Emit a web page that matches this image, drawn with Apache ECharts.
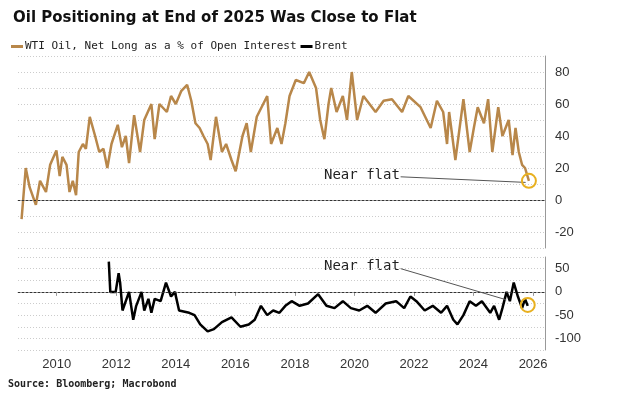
<!DOCTYPE html>
<html><head><meta charset="utf-8">
<script src="https://cdn.jsdelivr.net/npm/echarts@6/dist/echarts.min.js"></script>
<style>html,body{margin:0;padding:0;background:#fff}#c{width:631px;height:404px}</style>
</head><body><div id="c"></div>
<script>
// WTI net long % of open interest (years)
var wtiYears = [2008.82,2008.96,2009.09,2009.30,2009.44,2009.64,2009.78,2009.99,2010.10,2010.19,2010.33,2010.43,2010.54,2010.65,2010.74,2010.88,2010.98,2011.11,2011.29,2011.43,2011.57,2011.70,2011.84,2012.05,2012.19,2012.32,2012.43,2012.60,2012.80,2012.94,2013.18,2013.29,2013.45,2013.70,2013.84,2014.00,2014.18,2014.38,2014.52,2014.66,2014.80,2014.93,2015.07,2015.17,2015.35,2015.55,2015.69,2015.87,2016.01,2016.24,2016.38,2016.52,2016.72,2017.07,2017.20,2017.41,2017.55,2017.68,2017.82,2018.03,2018.30,2018.48,2018.71,2018.85,2018.99,2019.13,2019.22,2019.40,2019.61,2019.75,2019.91,2020.09,2020.30,2020.71,2020.98,2021.26,2021.60,2021.81,2022.22,2022.56,2022.77,2022.98,2023.11,2023.18,2023.39,2023.66,2023.87,2024.01,2024.14,2024.35,2024.49,2024.63,2024.83,2024.97,2025.18,2025.31,2025.41,2025.52,2025.63,2025.73,2025.86];
var wtiValues = [-12,20,8,-3,12,5,22,31,15,27,22,5,12,3,30,35,32,52,40,30,32,20,35,47,33,40,23,53,30,50,60,38,60,55,65,60,68,72,62,48,45,40,35,25,52,30,35,25,18,40,48,30,52,65,35,45,35,48,65,75,73,80,70,50,38,60,70,55,65,50,80,50,65,55,62,63,55,65,58,45,62,55,35,55,25,63,30,45,58,48,63,30,58,40,50,28,45,30,22,20,12];
// Brent
var brentYears = [2011.75,2011.80,2011.98,2012.08,2012.13,2012.21,2012.32,2012.43,2012.57,2012.67,2012.85,2012.94,2013.08,2013.18,2013.29,2013.49,2013.67,2013.84,2013.97,2014.11,2014.45,2014.63,2014.82,2015.07,2015.28,2015.55,2015.87,2016.17,2016.45,2016.65,2016.86,2017.07,2017.27,2017.48,2017.68,2017.89,2018.16,2018.44,2018.78,2019.06,2019.33,2019.61,2019.88,2020.16,2020.43,2020.71,2021.05,2021.40,2021.67,2021.88,2022.08,2022.36,2022.63,2022.91,2023.11,2023.32,2023.46,2023.66,2023.87,2024.08,2024.28,2024.56,2024.69,2024.86,2024.97,2025.11,2025.22,2025.35,2025.49,2025.63,2025.73,2025.82];
var brentValues = [65,0,0,40,20,-40,-20,0,-60,-30,0,-40,-15,-45,-15,-20,20,-10,0,-40,-45,-50,-70,-85,-80,-65,-55,-75,-70,-60,-30,-50,-40,-45,-30,-20,-30,-25,-5,-30,-35,-20,-35,-40,-30,-45,-25,-20,-35,-10,-20,-40,-30,-45,-30,-60,-70,-50,-20,-30,-20,-45,-30,-60,-35,0,-20,20,-10,-35,-15,-30];
var yearLabels = [2010,2012,2014,2016,2018,2020,2022,2024,2026];

var ORANGE = '#B8874A';
function zip(a, b) { return a.map(function (x, i) { return [x, b[i]]; }); }
var mono = '"DejaVu Sans Mono", monospace';

function xAx(idx, showLabels) {
    return {
        type: 'value', gridIndex: idx, min: 2008.7, max: 2026.4,
        axisLine: { show: true, lineStyle: { color: '#999' } },
        axisTick: { show: showLabels, length: 4, lineStyle: { color: '#999' }, customValues: yearLabels },
        axisLabel: { show: showLabels, customValues: yearLabels, color: '#333', fontSize: 13,
            fontFamily: 'Liberation Sans Narrow, Liberation Sans', margin: 8,
            formatter: function (v) { return String(Math.round(v)); } },
        splitLine: { show: false }
    };
}
function yAx(idx, min, max, interval, labelStep) {
    return {
        type: 'value', gridIndex: idx, position: 'right', min: min, max: max, interval: interval,
        axisLine: { show: true, lineStyle: { color: '#999' } },
        axisTick: { show: false },
        axisLabel: {
            color: '#333', fontSize: 13, fontFamily: 'Liberation Sans Narrow, Liberation Sans', margin: 10,
            formatter: function (v) { return (v % labelStep === 0 && v > min && v < max) ? String(v) : ''; }
        },
        splitLine: { show: true, lineStyle: { color: '#ccc', type: [1, 2] } }
    };
}

var chart = echarts.init(document.getElementById('c'));
chart.setOption({
    animation: false,
    title: { text: 'Oil Positioning at End of 2025 Was Close to Flat', left: 8, top: 6,
        textStyle: { fontSize: 15, fontWeight: 'bold', fontFamily: 'DejaVu Sans', color: '#111' } },
    legend: { left: 6, top: 36, itemWidth: 12, itemHeight: 3, itemGap: 4, icon: 'rect',
        textStyle: { fontFamily: mono, fontSize: 11, color: '#222', padding: [0, 0, 0, -3] },
        data: ['WTI Oil, Net Long as a % of Open Interest', 'Brent'] },
    grid: [
        { left: 18, right: 86, top: 56, height: 192 },
        { left: 18, right: 86, top: 257, height: 93 }
    ],
    xAxis: [xAx(0, false), xAx(1, true)],
    yAxis: [yAx(0, -30, 90, 10, 20), yAx(1, -125, 75, 25, 50)],
    graphic: [
        { type: 'text', left: 324, top: 168, style: { text: 'Near flat', fontFamily: mono, fontSize: 14, fill: '#222' } },
        { type: 'text', left: 324, top: 259, style: { text: 'Near flat', fontFamily: mono, fontSize: 14, fill: '#222' } },
        { type: 'text', left: 8, top: 379, style: { text: 'Source: Bloomberg; Macrobond', fontFamily: mono, fontSize: 10, fontWeight: 'bold', fill: '#222' } }
    ],
    series: [
        { name: 'WTI Oil, Net Long as a % of Open Interest', type: 'line', xAxisIndex: 0, yAxisIndex: 0,
          data: zip(wtiYears, wtiValues), showSymbol: false, color: ORANGE, lineStyle: { width: 2.5 },
          markLine: { silent: true, symbol: 'none', label: { show: false }, data: [
              { yAxis: 0, lineStyle: { color: '#333', type: [2, 2], width: 1 } },
              [{ coord: [2021.55, 14.5], lineStyle: { color: '#555', type: 'solid', width: 1 } }, { coord: [2025.75, 11] }]
          ] },
          markPoint: { silent: true, symbol: 'circle', symbolSize: 14, label: { show: false },
              itemStyle: { color: 'rgba(0,0,0,0)', borderColor: '#E8B020', borderWidth: 2 },
              data: [{ coord: [2025.86, 12] }] } },
        { name: 'Brent', type: 'line', xAxisIndex: 1, yAxisIndex: 1,
          data: zip(brentYears, brentValues), showSymbol: false, color: '#000', lineStyle: { width: 2.5 },
          markLine: { silent: true, symbol: 'none', label: { show: false }, data: [
              { yAxis: 0, lineStyle: { color: '#333', type: [2, 2], width: 1 } },
              [{ coord: [2021.55, 50], lineStyle: { color: '#555', type: 'solid', width: 1 } }, { coord: [2025.1, -17] }]
          ] },
          markPoint: { silent: true, symbol: 'circle', symbolSize: 14, label: { show: false },
              itemStyle: { color: 'rgba(0,0,0,0)', borderColor: '#E8B020', borderWidth: 2 },
              data: [{ coord: [2025.82, -28] }] } }
    ]
});
</script></body></html>
